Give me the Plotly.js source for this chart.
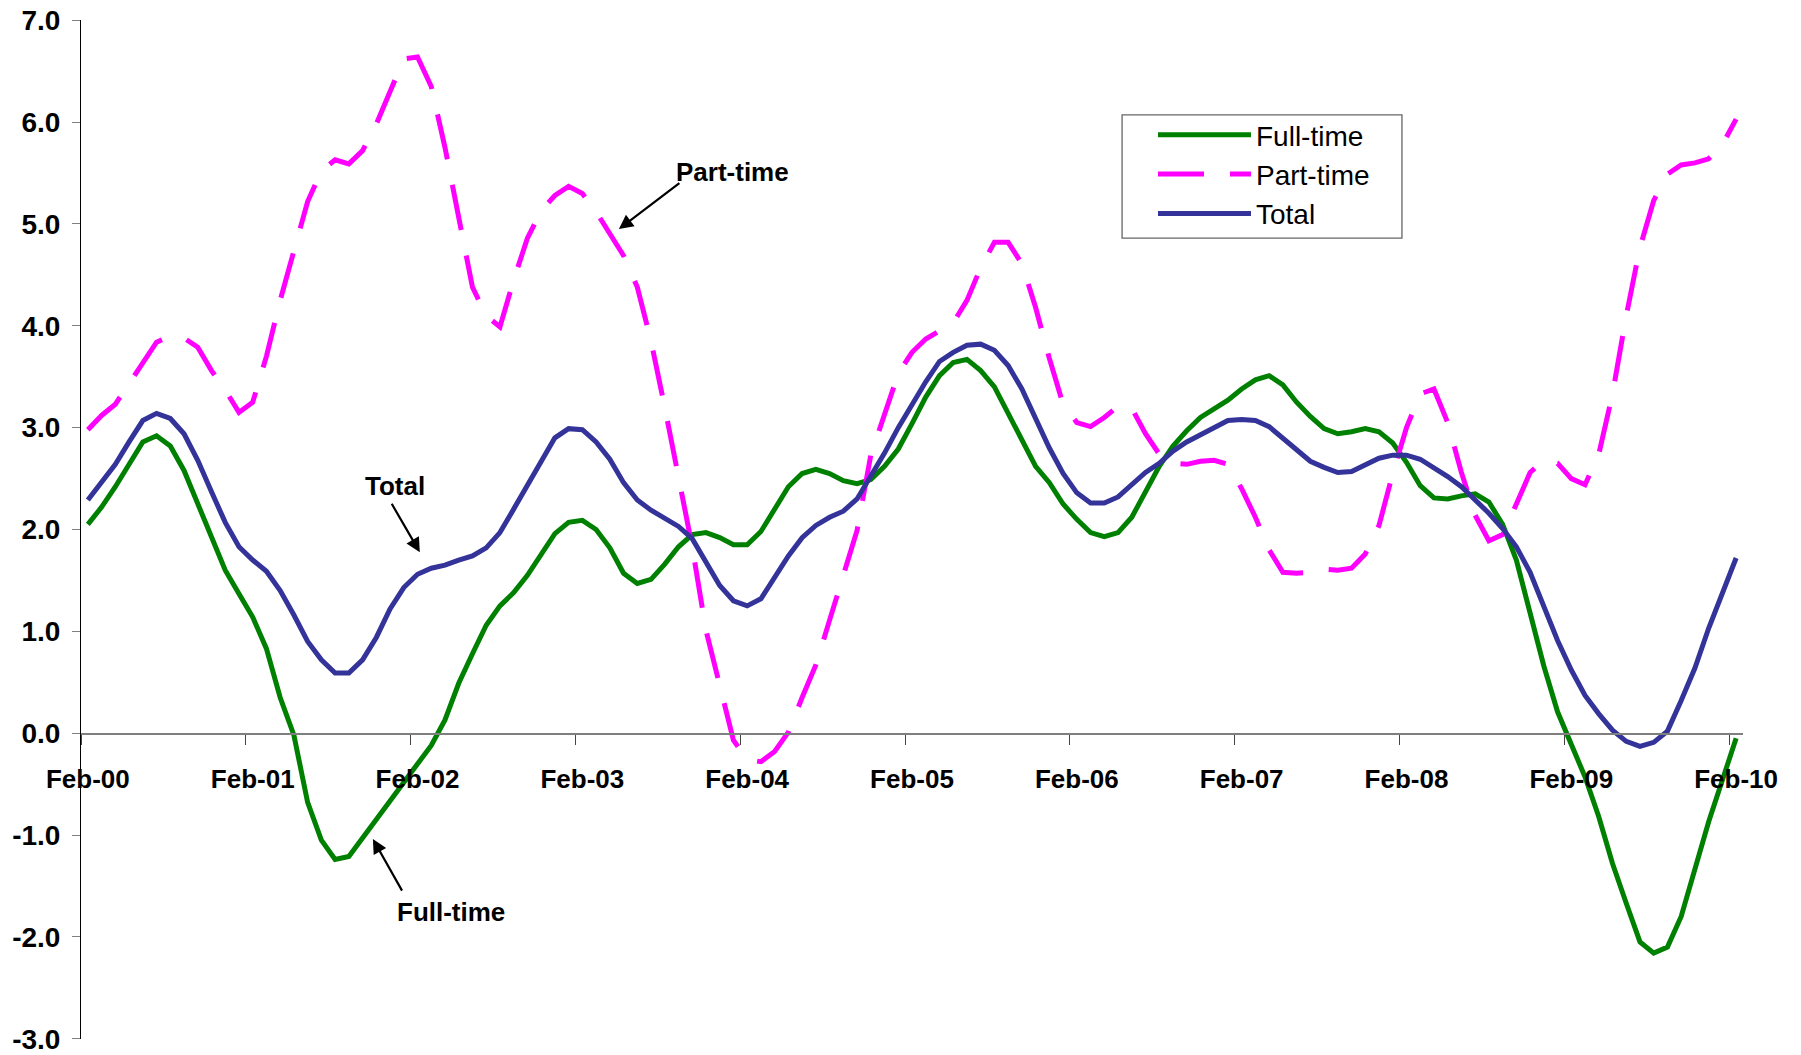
<!DOCTYPE html>
<html>
<head>
<meta charset="utf-8">
<script src="https://cdn.plot.ly/plotly-3.0.1.min.js"></script>
<style>
  html, body { margin: 0; padding: 0; background: #ffffff; }
  #chart { width: 1801px; height: 1055px; }
</style>
</head>
<body>
<div id="chart"></div>
<script>
// ---- Data (monthly, Feb-00 .. Feb-10) ----
const yearLabels = ["Feb-00","Feb-01","Feb-02","Feb-03","Feb-04","Feb-05","Feb-06","Feb-07","Feb-08","Feb-09","Feb-10"];
const monthsPerLabel = 12;

const fullTime = [
  2.05, 2.22, 2.42, 2.65, 2.86, 2.92, 2.82, 2.58, 2.25, 1.93, 1.60, 1.37,
  1.14, 0.83, 0.35, -0.02, -0.68, -1.05, -1.24, -1.21, -1.03, -0.84, -0.66, -0.48,
  -0.31, -0.12, 0.13, 0.49, 0.78, 1.06, 1.25, 1.38, 1.55, 1.76, 1.96, 2.07,
  2.09, 2.00, 1.82, 1.57, 1.47, 1.51, 1.66, 1.83, 1.95, 1.97, 1.92, 1.85,
  1.85, 1.98, 2.21, 2.42, 2.55, 2.59, 2.55, 2.48, 2.45, 2.49, 2.62, 2.79,
  3.04, 3.30, 3.51, 3.64, 3.67, 3.56, 3.40, 3.14, 2.86, 2.62, 2.46, 2.25,
  2.10, 1.97, 1.93, 1.97, 2.12, 2.38, 2.62, 2.82, 2.97, 3.10, 3.18, 3.27,
  3.38, 3.47, 3.51, 3.42, 3.25, 3.11, 2.99, 2.94, 2.96, 2.99, 2.96, 2.85,
  2.66, 2.43, 2.31, 2.30, 2.33, 2.35, 2.27, 2.05, 1.70, 1.19, 0.66, 0.21,
  -0.10, -0.43, -0.82, -1.28, -1.67, -2.05, -2.16, -2.10, -1.80, -1.33, -0.87, -0.46,
  -0.05
];

const partTime = [
  2.98, 3.12, 3.23, 3.43, 3.65, 3.84, 3.90, 3.88, 3.79, 3.56, 3.37, 3.15,
  3.25, 3.70, 4.25, 4.75, 5.22, 5.52, 5.63, 5.59, 5.72, 5.98, 6.30, 6.62,
  6.64, 6.35, 5.75, 5.07, 4.38, 4.10, 3.99, 4.45, 4.86, 5.13, 5.28, 5.37,
  5.30, 5.12, 4.90, 4.69, 4.38, 3.85, 3.20, 2.51, 1.83, 1.01, 0.45, -0.07,
  -0.26, -0.28, -0.18, 0.01, 0.35, 0.67, 1.11, 1.53, 1.99, 2.73, 3.15, 3.53,
  3.74, 3.87, 3.95, 4.03, 4.25, 4.57, 4.82, 4.82, 4.61, 4.18, 3.68, 3.23,
  3.05, 3.01, 3.10, 3.21, 3.19, 2.94, 2.74, 2.65, 2.64, 2.67, 2.68, 2.64,
  2.40, 2.12, 1.80, 1.58, 1.57, 1.58, 1.61, 1.60, 1.62, 1.76, 2.04, 2.55,
  3.00, 3.33, 3.38, 3.05, 2.56, 2.14, 1.89, 1.95, 2.25, 2.56, 2.68, 2.65,
  2.50, 2.44, 2.74, 3.33, 4.10, 4.77, 5.23, 5.49, 5.58, 5.60, 5.64, 5.78,
  6.03
];

const total = [
  2.29, 2.47, 2.64, 2.86, 3.07, 3.14, 3.09, 2.94, 2.68, 2.37, 2.07, 1.83,
  1.70, 1.59, 1.40, 1.16, 0.90, 0.72, 0.59, 0.59, 0.72, 0.94, 1.22, 1.43,
  1.56, 1.62, 1.65, 1.70, 1.74, 1.82, 1.97, 2.20, 2.44, 2.68, 2.90, 2.99,
  2.98, 2.86, 2.69, 2.46, 2.29, 2.19, 2.11, 2.03, 1.91, 1.68, 1.45, 1.30,
  1.25, 1.32, 1.53, 1.74, 1.92, 2.04, 2.12, 2.18, 2.30, 2.52, 2.75, 3.00,
  3.23, 3.45, 3.65, 3.74, 3.81, 3.82, 3.76, 3.61, 3.38, 3.09, 2.80, 2.55,
  2.36, 2.26, 2.26, 2.32, 2.44, 2.56, 2.65, 2.77, 2.86, 2.93, 3.01, 3.07,
  3.08, 3.07, 3.01, 2.90, 2.78, 2.67, 2.61, 2.56, 2.57, 2.63, 2.70, 2.73,
  2.73, 2.69, 2.61, 2.52, 2.42, 2.29, 2.16, 2.01, 1.83, 1.58, 1.24, 0.91,
  0.62, 0.37, 0.19, 0.03, -0.08, -0.13, -0.09, 0.02, 0.32, 0.64, 1.03, 1.37,
  1.72
];

const yTicks = [-3, -2, -1, 0, 1, 2, 3, 4, 5, 6, 7];

// ---- Build ----
const xIdx = fullTime.map((_, i) => i);
const labelPos = yearLabels.map((_, k) => k * monthsPerLabel);
const boundaryPos = yearLabels.map((_, k) => k * monthsPerLabel - 0.5);

const fam = "'Liberation Sans', Arial, sans-serif";

const traces = [
  { x: xIdx, y: fullTime, name: "Full-time", type: "scatter", mode: "lines",
    line: { color: "#008000", width: 5 } },
  { x: xIdx, y: partTime, name: "Part-time", type: "scatter", mode: "lines",
    line: { color: "#FF00FF", width: 5, dash: "46px,26px" } },
  { x: xIdx, y: total, name: "Total", type: "scatter", mode: "lines",
    line: { color: "#333399", width: 5 } }
];

const annFont = { family: fam, size: 26, color: "#000", weight: "bold" };

const layout = {
  width: 1801, height: 1055,
  margin: { l: 81, r: 58, t: 20, b: 16, pad: 0 },
  paper_bgcolor: "#ffffff", plot_bgcolor: "#ffffff",
  showlegend: true,
  hovermode: false,
  xaxis: {
    range: [-0.5, fullTime.length - 0.5],
    anchor: "free", position: 0.3,
    showline: true, linecolor: "#7f7f7f", linewidth: 1.5,
    showgrid: false, zeroline: false,
    tickmode: "array", tickvals: labelPos, ticktext: yearLabels,
    ticks: "", ticklabelstandoff: 22,
    tickfont: { family: fam, size: 26, color: "#000", weight: "bold" },
    minor: { tickmode: "array", tickvals: boundaryPos, ticks: "outside",
             ticklen: 10, tickwidth: 1, tickcolor: "#444", showgrid: false }
  },
  yaxis: {
    range: [-3.003, 7.003],
    showline: true, linecolor: "#000", linewidth: 1,
    showgrid: false, zeroline: false,
    tickmode: "array", tickvals: yTicks, ticktext: yTicks.map(v => v.toFixed(1)),
    ticks: "outside", ticklen: 8, tickcolor: "#7f7f7f", tickwidth: 1,
    ticklabelstandoff: 6,
    tickfont: { family: fam, size: 28, color: "#000", weight: "bold" }
  },
  legend: {
    x: 0.645, y: 0.9117, xanchor: "left", yanchor: "top",
    bgcolor: "rgba(0,0,0,0)", borderwidth: 0,
    font: { family: fam, size: 28, color: "#000" },
    itemwidth: 93, tracegroupgap: 0
  },
  shapes: [
    { type: "rect", xref: "paper", yref: "paper",
      x0: 0.6264, x1: 0.7948, y0: 0.786, y1: 0.9068,
      line: { color: "#666", width: 1.3 }, fillcolor: "#ffffff", layer: "below" }
  ],
  annotations: [
    { x: 46.95, y: 5.515, text: "Part-time", showarrow: false, font: annFont },
    { x: 38.66, y: 4.95, ax: 62, ay: -47, text: "", showarrow: true,
      arrowhead: 2, arrowsize: 1.3, arrowwidth: 2.2, arrowcolor: "#000" },
    { x: 22.35, y: 2.424, text: "Total", showarrow: false, font: annFont },
    { x: 24.17, y: 1.776, ax: -29, ay: -50, text: "", showarrow: true,
      arrowhead: 2, arrowsize: 1.3, arrowwidth: 2.2, arrowcolor: "#000" },
    { x: 26.43, y: -1.757, text: "Full-time", showarrow: false, font: annFont },
    { x: 20.75, y: -1.04, ax: 30, ay: 53, text: "", showarrow: true,
      arrowhead: 2, arrowsize: 1.3, arrowwidth: 2.2, arrowcolor: "#000" }
  ]
};

Plotly.newPlot("chart", traces, layout, { displayModeBar: false, staticPlot: true });
</script>
</body>
</html>
